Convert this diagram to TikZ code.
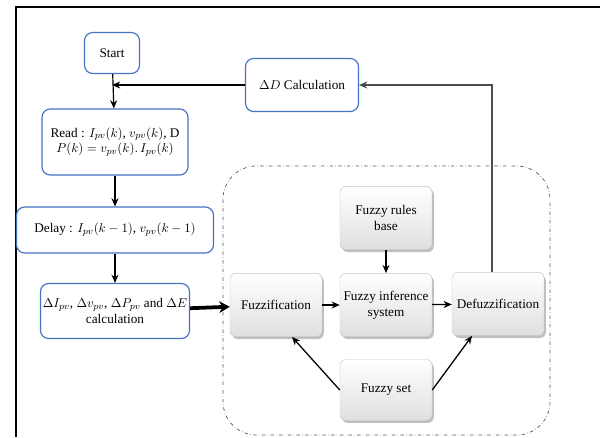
\documentclass[tikz,border=0pt]{standalone}
\usepackage{fontspec}
\setmainfont{Liberation Serif}
\usetikzlibrary{shadows,arrows.meta}
\definecolor{boxblue}{RGB}{68,114,196}

\tikzset{
  flowbox/.style={draw=boxblue, line width=1pt, rounded corners=7pt, fill=white, align=center, inner sep=2pt},
  fuzzybox/.style={rounded corners=5pt, draw=gray!45, top color=white, bottom color=gray!25, align=center,
    minimum width=2.76cm, minimum height=1.9cm, inner sep=2pt,
    drop shadow={shadow xshift=1.5pt, shadow yshift=-2pt, opacity=0.5}},
  flowarrow/.style={-{Stealth[length=7pt,width=6pt]}, line width=1pt},
  fuzzyarrow/.style={-{Stealth[length=7pt,width=6pt]}, line width=1.1pt}
}

\begin{document}
\begin{tikzpicture}[x=0.03cm, y=-0.03cm, font=\fontsize{11.3}{13.5}\selectfont]
	\useasboundingbox (0,0) rectangle (600,437);
	% frame
	\draw[line width=2.4pt] (16,437) -- (16,7) -- (600,7);
	% fuzzy logic block
	\draw[gray!70!black, dash dot, line width=0.6pt, rounded corners=1cm] (223,166) rectangle (550,435);

	% left flow
	\node[flowbox, minimum width=1.65cm, minimum height=1.23cm] (start) at (112,53) {Start};
	\node[flowbox, minimum width=3.39cm, minimum height=1.59cm] (dcalc) at (302,85) {$\Delta D$ Calculation};
	\node[flowbox, minimum width=4.38cm, minimum height=1.98cm] (read) at (115,142)
		{Read : $I_{pv}(k)$, $v_{pv}(k)$, D\\ $P(k) = v_{pv}(k).\, I_{pv}(k)$};
	\node[flowbox, minimum width=5.91cm, minimum height=1.38cm] (delay) at (115,230)
		{Delay : $I_{pv}(k-1)$, $v_{pv}(k-1)$};
	\node[flowbox, minimum width=4.32cm, minimum height=1.65cm] (calc) at (115,311)
		{$\Delta I_{pv}$, $\Delta v_{pv}$, $\Delta P_{pv}$ and $\Delta E$\\ calculation};

	% fuzzy controller
	\node[fuzzybox] (rules) at (386,218) {Fuzzy rules\\ base};
	\node[fuzzybox] (fuzzif) at (276,305) {Fuzzification};
	\node[fuzzybox] (infer) at (386,305) {Fuzzy inference\\ system};
	\node[fuzzybox] (defuzz) at (498,304) {Defuzzification};
	\node[fuzzybox, minimum height=1.83cm] (fset) at (386,390) {Fuzzy set};

	\coordinate (join) at (start.south |- dcalc.west);

	\draw[flowarrow] (start) -- (read);
	\draw[flowarrow] (dcalc) -- (join);
	\draw[flowarrow] (read) -- (delay);
	\draw[flowarrow] (delay) -- (calc);
	\draw[-{Stealth[length=9pt,width=10pt]}, line width=3.2pt] (calc) -- (fuzzif);

	\draw[fuzzyarrow] (rules) -- (infer);
	\draw[fuzzyarrow] (fuzzif) -- (infer);
	\draw[fuzzyarrow] (infer) -- (defuzz);
	\draw[fuzzyarrow] (fset.west) -- ([xshift=0.48cm]fuzzif.south);
	\draw[fuzzyarrow] (fset.east) -- ([xshift=-0.78cm]defuzz.south);
	\draw[-{Stealth[length=7pt,width=6pt]}, line width=0.9pt, gray!60!black] ([xshift=-0.18cm]defuzz.north) |- (dcalc.east);
\end{tikzpicture}
\end{document}
